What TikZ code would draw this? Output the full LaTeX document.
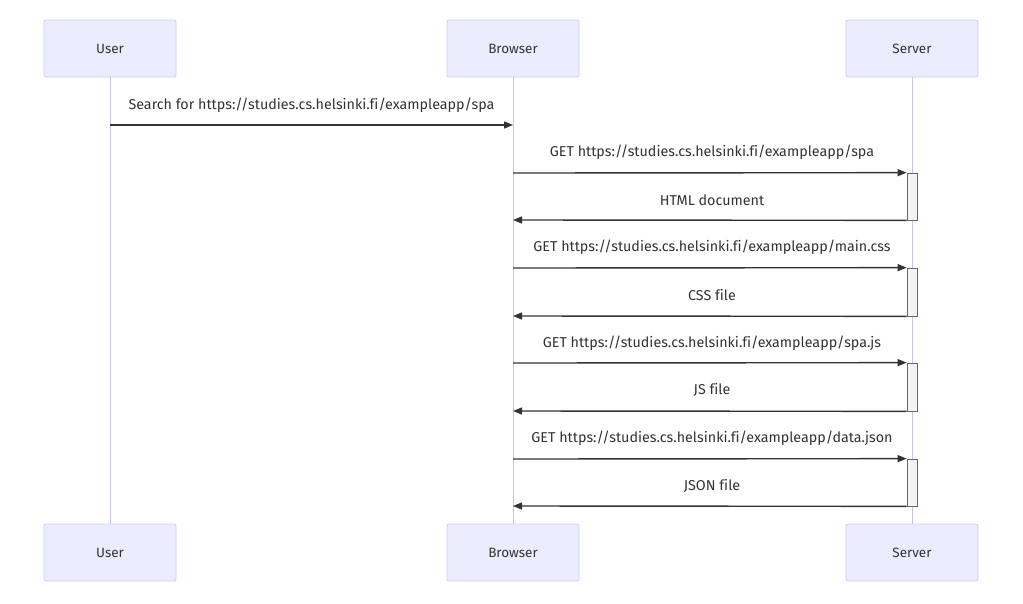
\documentclass[tikz,border=0pt]{standalone}
\usepackage{fontspec}
\setmainfont[Ligatures=NoCommon]{Fira Sans}
\usetikzlibrary{arrows.meta}
\definecolor{actfill}{HTML}{ECECFF}
\definecolor{actline}{HTML}{CCCCFF}
\definecolor{lifel}{HTML}{C8C0EE}
\definecolor{txt}{HTML}{333333}
\definecolor{msgc}{HTML}{333333}
\definecolor{actvfill}{HTML}{F4F4F4}
\definecolor{actvline}{HTML}{666666}
\begin{document}
\begin{tikzpicture}[x=1pt,y=-1pt,
  actor/.style={draw=actline,fill=actfill,line width=0.8pt,minimum width=132pt,minimum height=57pt,inner sep=0pt,rounded corners=2pt,font=\fontsize{13.5}{15}\selectfont,text=txt},
  lifeline/.style={draw=lifel,line width=1pt},
  msg/.style={draw=msgc,line width=1.4pt,-{Triangle[length=9pt,width=7pt]}},
  lbl/.style={font=\fontsize{14.3}{16}\selectfont,text=txt,inner sep=0pt},
  actv/.style={draw=actvline,fill=actvfill,line width=0.7pt,inner sep=0pt,minimum width=10pt}]
\useasboundingbox (0,0) rectangle (1023,603);
\fill[white] (0,0) rectangle (1023,603);
% actors
\node[actor] (ut) at (110,48.5) {User};
\node[actor] (bt) at (513,48.5) {Browser};
\node[actor] (st) at (912,48.5) {Server};
\node[actor] (ub) at (110,552.5) {User};
\node[actor] (bb) at (513,552.5) {Browser};
\node[actor] (sb) at (912,552.5) {Server};
% lifelines
\draw[lifeline] (ut.south) -- (ub.north);
\draw[lifeline] (bt.south) -- (bb.north);
\draw[lifeline] (st.south) -- (sb.north);
% activations
\node[actv,minimum height=47pt] (a1) at (912,196.5) {};
\node[actv,minimum height=48pt] (a2) at (912,292) {};
\node[actv,minimum height=48pt] (a3) at (912,387) {};
\node[actv,minimum height=47pt] (a4) at (912,482.5) {};
% coordinates
\coordinate (u1) at (110,125); \coordinate (b1) at (513,125);
\coordinate (b2) at (513,173); \coordinate (b3) at (513,220);
\coordinate (b4) at (513,268); \coordinate (b5) at (513,316);
\coordinate (b6) at (513,363); \coordinate (b7) at (513,411);
\coordinate (b8) at (513,459); \coordinate (b9) at (513,506);
% messages
\draw[msg] (u1) -- (b1);
\node[lbl] (l1) at (311.5,105) {Search for https://studies.cs.helsinki.fi/exampleapp/spa};
\draw[msg] (b2) -- (a1.north west);
\node[lbl] (l2) at (712,152) {GET https://studies.cs.helsinki.fi/exampleapp/spa};
\draw[msg] (a1.south west) -- (b3);
\node[lbl] (l3) at (712,200) {HTML document};
\draw[msg] (b4) -- (a2.north west);
\node[lbl] (l4) at (712,247) {GET https://studies.cs.helsinki.fi/exampleapp/main.css};
\draw[msg] (a2.south west) -- (b5);
\node[lbl] (l5) at (712,295) {CSS file};
\draw[msg] (b6) -- (a3.north west);
\node[lbl] (l6) at (712,343) {GET https://studies.cs.helsinki.fi/exampleapp/spa.js};
\draw[msg] (a3.south west) -- (b7);
\node[lbl] (l7) at (712,390) {JS file};
\draw[msg] (b8) -- (a4.north west);
\node[lbl] (l8) at (712,438) {GET https://studies.cs.helsinki.fi/exampleapp/data.json};
\draw[msg] (a4.south west) -- (b9);
\node[lbl] (l9) at (712,486) {JSON file};
\end{tikzpicture}
\end{document}
